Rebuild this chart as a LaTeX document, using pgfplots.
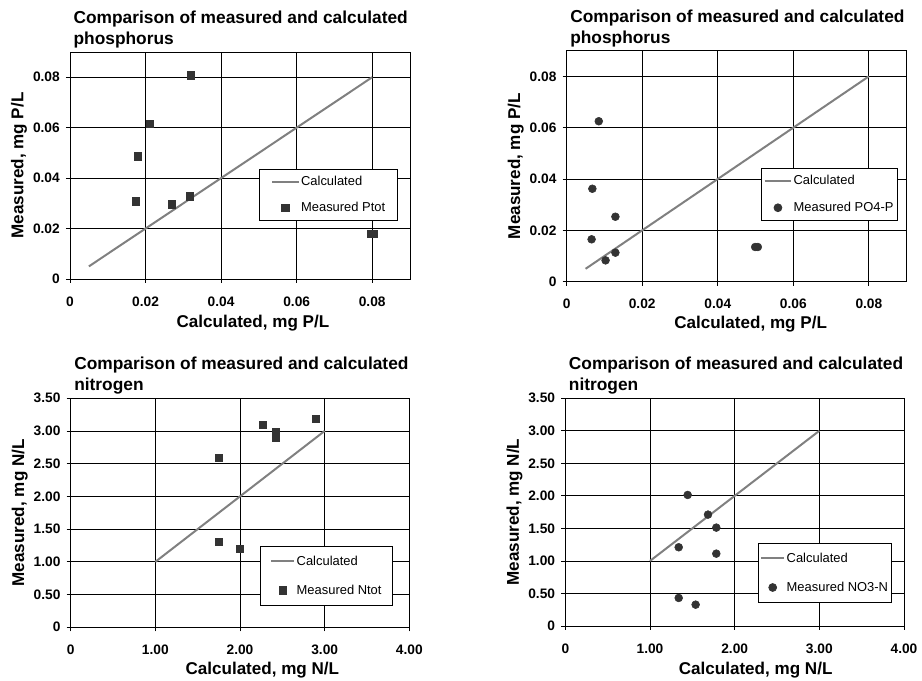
\documentclass[border=0pt]{standalone}
\usepackage{pgfplots}
\pgfplotsset{compat=1.18}
\usepackage{fontspec}
\setmainfont{Liberation Sans}

\definecolor{calcline}{RGB}{128,128,128}
\definecolor{markcol}{RGB}{51,51,51}

\pgfplotsset{
  panel/.style={
    scale only axis,
    scaled ticks=false,
    axis line style={black, line width=0.6pt},
    grid=major,
    major grid style={black, line width=0.6pt},
    tick align=outside,
    major tick length=3pt,
    tick style={black, line width=0.6pt},
    xtick pos=bottom, ytick pos=left,
    ticklabel style={font=\bfseries\fontsize{10.3}{12}\selectfont},
    xticklabel style={anchor=base, yshift=-17.5pt},
    yticklabel style={anchor=east, inner sep=0pt, xshift=-4.5pt},
    title style={at={(0,1)}, anchor=south west, inner sep=0pt, xshift=2.5pt, yshift=-3.5pt,
      align=left, font=\bfseries\fontsize{13}{15.75}\selectfont},
    label style={font=\bfseries\fontsize{12.8}{15}\selectfont},
    ylabel style={at={(axis description cs:-0.15,0.5)}, anchor=center},
    legend style={draw=black, line width=0.6pt, fill=white,
      font=\fontsize{9.7}{11.6}\selectfont, anchor=south west,
      nodes={inner xsep=1pt, inner ysep=1pt}},
    legend cell align=left,
  },
  limgA/.style={legend image code/.code={\draw[mark repeat=2,mark phase=2,##1]
      plot coordinates {(0pt,0pt) (10pt,0pt) (20pt,0pt)};}},
  limgB/.style={legend image code/.code={\draw[mark repeat=2,mark phase=2,##1]
      plot coordinates {(0pt,0pt) (8.75pt,0pt) (17.5pt,0pt)};}},
  ptop/.style={
    xmin=0, xmax=0.09, ymin=0, ymax=0.09,
    xtick={0,0.02,0.04,0.06,0.08}, xticklabels={0,0.02,0.04,0.06,0.08},
    ytick={0,0.02,0.04,0.06,0.08}, yticklabels={0,0.02,0.04,0.06,0.08},
    title={Comparison of measured and calculated\\phosphorus},
    xlabel={Calculated, mg P/L}, ylabel={Measured, mg P/L},
    limgA,
  },
  nbot/.style={
    xmin=0, xmax=4, ymin=0, ymax=3.5,
    xtick={0,1,2,3,4}, xticklabels={0,1.00,2.00,3.00,4.00},
    ytick={0,0.5,1,1.5,2,2.5,3,3.5}, yticklabels={0,0.50,1.00,1.50,2.00,2.50,3.00,3.50},
    title={Comparison of measured and calculated\\nitrogen},
    xlabel={Calculated, mg N/L}, ylabel={Measured, mg N/L},
    limgB,
  },
  calc/.style={color=calcline, line width=1.5pt, no marks},
  measq/.style={only marks, mark=square*, mark size=2.8pt, color=markcol},
  measc/.style={only marks, mark=*, mark size=2.95pt, color=markcol},
}

\begin{document}
\begin{tikzpicture}
\useasboundingbox (0,0) rectangle (691.5pt,510.75pt);

% top left
\begin{axis}[panel, ptop, at={(52.5pt,301.5pt)}, anchor=south west,
  width=255pt, height=170.25pt,
  xlabel style={at={(axis description cs:0.538,0)}, anchor=base, yshift=-36.5pt},
  legend style={at={(axis description cs:0.557,0.256)},
    inner xsep=8.5pt, inner ysep=4.3pt, row sep=9pt}]
\addplot[calc] coordinates {(0.005,0.005) (0.08,0.08)};
\addlegendentry{Calculated}
\addplot[measq] coordinates {
(0.0319,0.0807) (0.0211,0.0615) (0.0179,0.0486) (0.0174,0.0309)
(0.0270,0.0297) (0.0317,0.0328) (0.0797,0.0180) (0.0803,0.0180)};
\addlegendentry{Measured Ptot}
\end{axis}

% top right
\begin{axis}[panel, ptop, at={(425pt,299.5pt)}, anchor=south west,
  width=255pt, height=173.25pt,
  xlabel style={at={(axis description cs:0.541,0)}, anchor=base, yshift=-35pt},
  legend style={at={(axis description cs:0.571,0.263)},
    inner xsep=1.8pt, inner ysep=4.3pt, row sep=9.5pt}]
\addplot[calc] coordinates {(0.005,0.005) (0.08,0.08)};
\addlegendentry{Calculated}
\addplot[measc] coordinates {
(0.0085,0.0625) (0.0068,0.0362) (0.0129,0.0253) (0.0066,0.0165)
(0.0129,0.0113) (0.0103,0.0083) (0.0499,0.0135) (0.0506,0.0135)};
\addlegendentry{Measured PO4-P}
\end{axis}

% bottom left
\begin{axis}[panel, nbot, at={(53pt,40.3pt)}, anchor=south west,
  width=254pt, height=171.75pt,
  xlabel style={at={(axis description cs:0.566,0)}, anchor=base, yshift=-35.3pt},
  legend style={at={(axis description cs:0.56,0.095)},
    inner xsep=7pt, inner ysep=5.8pt, row sep=11.25pt}]
\addplot[calc] coordinates {(1,1) (3,3)};
\addlegendentry{Calculated}
\addplot[measq] coordinates {
(1.752,2.593) (2.272,3.097) (2.425,2.99) (2.425,2.90)
(2.894,3.189) (1.752,1.309) (2.0,1.202)};
\addlegendentry{Measured Ntot}
\end{axis}

% bottom right
\begin{axis}[panel, nbot, at={(424pt,41.25pt)}, anchor=south west,
  width=254pt, height=170.8pt,
  xlabel style={at={(axis description cs:0.562,0)}, anchor=base, yshift=-36.2pt},
  legend style={at={(axis description cs:0.569,0.1025)},
    inner xsep=1.2pt, inner ysep=5.8pt, row sep=11.25pt}]
\addplot[calc] coordinates {(1,1) (3,3)};
\addlegendentry{Calculated}
\addplot[measc] coordinates {
(1.445,2.014) (1.685,1.712) (1.783,1.512) (1.339,1.210)
(1.783,1.112) (1.339,0.431) (1.539,0.328)};
\addlegendentry{Measured NO3-N}
\end{axis}
\end{tikzpicture}
\end{document}
